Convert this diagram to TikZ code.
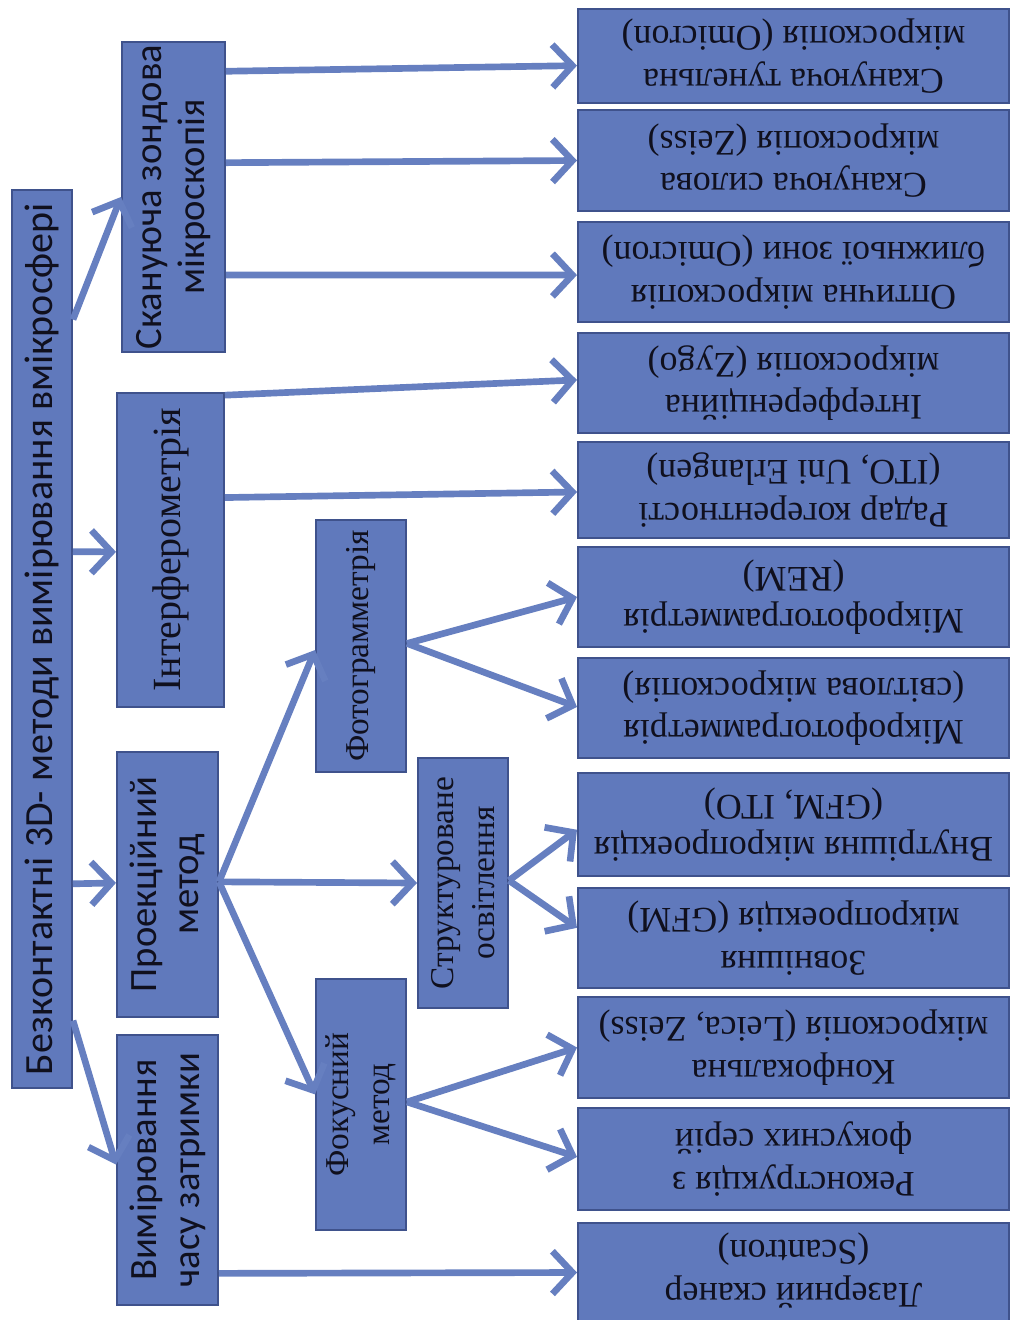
\documentclass[tikz,border=0pt]{standalone}
\usepackage{fontspec}
\setmainfont{Liberation Serif}
\newfontfamily\calfont{Carlito}
\usetikzlibrary{arrows.meta,calc,fit}
\definecolor{boxfill}{HTML}{6079BC}
\definecolor{boxline}{HTML}{3F528C}
\definecolor{arrowc}{HTML}{667FC0}
\definecolor{txtc}{HTML}{10101E}
\begin{document}
\begin{tikzpicture}[x=0.75pt,y=-0.75pt,
  box/.style={draw=boxline, line width=1.5pt, fill=boxfill, inner sep=0pt},
  txt/.style={text=txtc, inner sep=0pt, align=center},
  rtxt/.style={txt, rotate=180, font=\fontsize{27}{32}\selectfont},
  ltxt/.style={txt, rotate=90, font=\calfont\fontsize{29}{32}\selectfont},
  stxt/.style={txt, rotate=90, font=\fontsize{30}{34}\selectfont},
  mtxt/.style={txt, rotate=90, font=\fontsize{25}{31}\selectfont},
  conn/.style={draw=arrowc, line width=5pt, -{Straight Barb[length=15pt,width=32pt]}},
]
\useasboundingbox (0,0) rectangle (1011,1320);
% boxes
\node[box, fit={(12,190) (72,1088)}] (root) {};
\node[box, fit={(122,42) (225,352)}] (szm) {};
\node[box, fit={(117,393) (224,707)}] (intf) {};
\node[box, fit={(117,752) (218,1017)}] (proj) {};
\node[box, fit={(117,1035) (218,1305)}] (delay) {};
\node[box, fit={(316,520) (406,772)}] (foto) {};
\node[box, fit={(418,758) (508,1008)}] (struct) {};
\node[box, fit={(316,979) (406,1230)}] (focus) {};
\node[box, fit={(578,9) (1009,103)}] (r1) {};
\node[box, fit={(578,110) (1009,211)}] (r2) {};
\node[box, fit={(578,222) (1009,322)}] (r3) {};
\node[box, fit={(578,333) (1009,433)}] (r4) {};
\node[box, fit={(578,442) (1009,538)}] (r5) {};
\node[box, fit={(578,547) (1009,647)}] (r6) {};
\node[box, fit={(578,658) (1009,758)}] (r7) {};
\node[box, fit={(578,773) (1009,876)}] (r8) {};
\node[box, fit={(578,888) (1009,988)}] (r9) {};
\node[box, fit={(578,997) (1009,1098)}] (r10) {};
\node[box, fit={(578,1108) (1009,1210)}] (r11) {};
\node[box, fit={(578,1223) (1009,1322)}] (r12) {};
% texts
\node[ltxt, font=\calfont\fontsize{30}{32}\selectfont] (roott) at (root.center) {Безконтактні 3D- методи вимірювання вмікросфері};
\node[ltxt] (szmt) at (szm.center) {Скануюча зондова\\мікроскопія};
\node[stxt] (intft) at (intf.center) {Інтерферометрія};
\node[ltxt] (projt) at (proj.center) {Проекційний\\метод};
\node[ltxt] (delayt) at (delay.center) {Вимірювання\\часу затримки};
\node[mtxt] (fotot) at (foto.center) {Фотограмметрія};
\node[mtxt] (structt) at (struct.center) {Структуроване\\освітлення};
\node[mtxt] (focust) at (focus.center) {Фокусний\\метод};
\node[rtxt] (r1t) at (r1.center) {Скануюча тунельна\\мікроскопія (Omicron)};
\node[rtxt] (r2t) at (r2.center) {Скануюча силова\\мікроскопія (Zeiss)};
\node[rtxt] (r3t) at (r3.center) {Оптична мікроскопія\\ближньої зони (Omicron)};
\node[rtxt] (r4t) at (r4.center) {Інтерференційна\\мікроскопія (Zygo)};
\node[rtxt] (r5t) at (r5.center) {Радар когерентності\\(ITO, Uni Erlangen)};
\node[rtxt] (r6t) at (r6.center) {Мікрофотограмметрія\\(REM)};
\node[rtxt] (r7t) at (r7.center) {Мікрофотограмметрія\\(світлова мікроскопія)};
\node[rtxt] (r8t) at (r8.center) {Внутрішня мікропроекція\\(GFM, ITO)};
\node[rtxt] (r9t) at (r9.center) {Зовнішня\\мікропроекція (GFM)};
\node[rtxt] (r10t) at (r10.center) {Конфокальна\\мікроскопія (Leica, Zeiss)};
\node[rtxt] (r11t) at (r11.center) {Реконструкція з\\фокусних серій};
\node[rtxt] (r12t) at ($(r12.center)+(0,-2)$) {Лазерний сканер\\(Scantron)};
% connectors from root
\draw[conn] ($(root.north east)!0.145!(root.south east)$) -- (szm.west);
\draw[conn] ($(root.north east)!0.403!(root.south east)$) -- ($(intf.north west)!0.506!(intf.south west)$);
\draw[conn] ($(root.north east)!0.772!(root.south east)$) -- ($(proj.north west)!0.494!(proj.south west)$);
\draw[conn] ($(root.north east)!0.924!(root.south east)$) -- ($(delay.north west)!0.48!(delay.south west)$);
% from SZM
\draw[conn] ($(szm.north east)!0.097!(szm.south east)$) -- ($(r1.north west)!0.6!(r1.south west)$);
\draw[conn] ($(szm.north east)!0.39!(szm.south east)$) -- ($(r2.north west)!0.5!(r2.south west)$);
\draw[conn] ($(szm.north east)!0.75!(szm.south east)$) -- ($(r3.north west)!0.53!(r3.south west)$);
% from interferometry
\draw[conn] ($(intf.north east)!0.01!(intf.south east)$) -- ($(r4.north west)!0.47!(r4.south west)$);
\draw[conn] ($(intf.north east)!0.334!(intf.south east)$) -- ($(r5.north west)!0.52!(r5.south west)$);
% from projection
\draw[conn] ($(proj.north east)!0.49!(proj.south east)$) -- ($(foto.north west)!0.516!(foto.south west)$);
\draw[conn] ($(proj.north east)!0.49!(proj.south east)$) -- ($(struct.north west)!0.5!(struct.south west)$);
\draw[conn] ($(proj.north east)!0.49!(proj.south east)$) -- ($(focus.north west)!0.46!(focus.south west)$);
% from delay
\draw[conn] ($(delay.north east)!0.88!(delay.south east)$) -- ($(r12.north west)!0.5!(r12.south west)$);
% level 2 to right
\draw[conn] ($(foto.north east)!0.49!(foto.south east)$) -- ($(r6.north west)!0.5!(r6.south west)$);
\draw[conn] ($(foto.north east)!0.49!(foto.south east)$) -- ($(r7.north west)!0.49!(r7.south west)$);
\draw[conn] ($(struct.north east)!0.49!(struct.south east)$) -- ($(r8.north west)!0.55!(r8.south west)$);
\draw[conn] ($(struct.north east)!0.49!(struct.south east)$) -- ($(r9.north west)!0.4!(r9.south west)$);
\draw[conn] ($(focus.north east)!0.49!(focus.south east)$) -- ($(r10.north west)!0.5!(r10.south west)$);
\draw[conn] ($(focus.north east)!0.49!(focus.south east)$) -- ($(r11.north west)!0.48!(r11.south west)$);
\end{tikzpicture}
\end{document}
